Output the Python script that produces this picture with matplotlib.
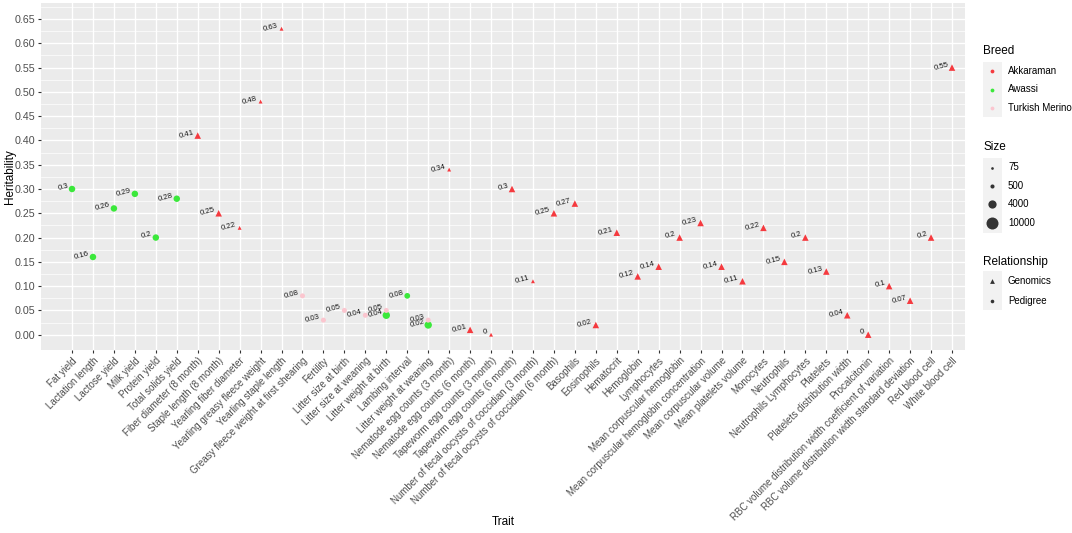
import numpy as np
import matplotlib.pyplot as plt
from matplotlib.patches import Rectangle

plt.rcParams['font.family'] = ['Liberation Sans', 'DejaVu Sans']

###########################################
# data
###########################################
traits = ["Fat yield", "Lactation length", "Lactose yield", "Milk yield", "Protein yield",
          "Total solids yield", "Fiber diameter (8 month)", "Staple length (8 month)",
          "Yearling fiber diameter", "Yearling greasy fleece weight", "Yearling staple length",
          "Greasy fleece weight at first shearing", "Fertility", "Litter size at birth",
          "Litter size at weaning", "Litter weight at birth", "Lambing interval",
          "Litter weight at weaning", "Nematode egg counts (3 month)",
          "Nematode egg counts (6 month)", "Tapeworm egg counts (3 month)",
          "Tapeworm egg counts (6 month)", "Number of fecal oocysts of coccidian (3 month)",
          "Number of fecal oocysts of coccidian (6 month)", "Basophils", "Eosinophils",
          "Hematocrit", "Hemoglobin", "Lymphocytes", "Mean corpuscular hemoglobin",
          "Mean corpuscular hemoglobin concentration", "Mean corpuscular volume",
          "Mean platelets volume", "Monocytes", "Neutrophils", "Neutrophils Lymphocytes",
          "Platelets", "Platelets distribution width", "Procalcitonin",
          "RBC volume distribution width coefficient of variation",
          "RBC volume distribution width standard deviation", "Red blood cell",
          "White blood cell"]

# one row per estimate (trait, breed, relationship, size, heritability)
point_trait = traits[:16] + ["Litter weight at birth", "Lambing interval",
                             "Litter weight at weaning", "Litter weight at weaning"] + traits[18:]
point_breed = (["Awassi"] * 6 + ["Akkaraman"] * 5 + ["Turkish Merino"] * 5
               + ["Awassi", "Awassi", "Turkish Merino", "Awassi"] + ["Akkaraman"] * 25)
point_rel = (["Pedigree"] * 6 + ["Genomics"] * 5 + ["Pedigree"] * 9 + ["Genomics"] * 25)
point_size = ([2100] * 6 + [700, 700, 75, 75, 75] + [1000] * 5
              + [3000, 1500, 1000, 3000]
              + [75, 700, 75, 700, 75, 700] + [700] * 19)
heritability = ([0.30, 0.16, 0.26, 0.29, 0.20, 0.28, 0.41, 0.25, 0.22, 0.48, 0.63,
                 0.08, 0.03, 0.05, 0.04, 0.05, 0.04, 0.08, 0.03, 0.02,
                 0.34, 0.01, 0.00, 0.30, 0.11, 0.25, 0.27, 0.02, 0.21, 0.12, 0.14,
                 0.20, 0.23, 0.14, 0.11, 0.22, 0.15, 0.20, 0.13, 0.04, 0.00, 0.10,
                 0.07, 0.20, 0.55])

breeds = ["Akkaraman", "Awassi", "Turkish Merino"]
breed_colors = {"Akkaraman": "#F53A3F", "Awassi": "#3BE83B", "Turkish Merino": "#FBC6CF"}
size_breaks = [75, 500, 4000, 10000]
relationships = ["Genomics", "Pedigree"]
rel_markers = {"Genomics": "^", "Pedigree": "o"}

W, H = 1072, 533
px = 72.0 / 100  # points per pixel
L, R, T, B = 41, 965, 3, 350  # panel edges in pixels


def diam(v):
    # point diameter in pixels for a given size value
    return 1.8 + 0.102 * np.sqrt(v)


###########################################
# main panel
###########################################
fig = plt.figure(figsize=(W / 100, H / 100), dpi=100)
ax = fig.add_axes([L / W, (H - B) / H, (R - L) / W, (B - T) / H])
ax.set_facecolor("#EBEBEB")
for s in ax.spines.values():
    s.set_visible(False)

xpos = {t: i + 1 for i, t in enumerate(traits)}
xs = [xpos[t] for t in point_trait]

for rel in relationships:
    for b in breeds:
        idx = [i for i in range(len(xs)) if point_rel[i] == rel and point_breed[i] == b]
        if not idx:
            continue
        d = np.array([diam(point_size[i]) for i in idx])
        if rel == "Genomics":
            d = d * 1.45
        ax.scatter([xs[i] for i in idx], [heritability[i] for i in idx],
                   s=(d * px) ** 2, marker=rel_markers[rel], color=breed_colors[b],
                   linewidths=0, zorder=3)

for x, y in zip(xs, heritability):
    ax.annotate(f"{y:g}", (x, y), xytext=(-2, 0), textcoords="offset points",
                ha="right", va="bottom", rotation=15, rotation_mode="anchor",
                fontsize=5.6, color="#1A1A1A", zorder=4)

ax.set_xlim(-0.48, 43.62)
ax.set_ylim(-0.0315, 0.683)
ax.set_xticks(range(1, len(traits) + 1))
ax.set_xticklabels(traits, rotation=45, ha="right", rotation_mode="anchor", fontsize=7.0)
yt = np.arange(0, 0.651, 0.05)
ax.set_yticks(yt)
ax.set_yticklabels([f"{v:.2f}" for v in yt], fontsize=7.7)
ax.set_yticks(np.arange(0.025, 0.68, 0.05), minor=True)
ax.grid(True, which="major", color="white", linewidth=1.0)
ax.grid(True, which="minor", axis="y", color="white", linewidth=0.5)
ax.set_axisbelow(True)
ax.tick_params(axis="both", which="major", length=2.5, width=0.8, color="#333333",
               labelcolor="#4D4D4D", pad=1.5)
ax.tick_params(axis="both", which="minor", length=0)
ax.set_xlabel("Trait", fontsize=8.5, color="black")
ax.set_ylabel("Heritability", fontsize=8.5, color="black")
ax.xaxis.set_label_coords(0.5, -(516 - B) / (B - T))
ax.yaxis.set_label_coords(-(L - 16) / (R - L), 0.5)

###########################################
# legends (drawn in pixel coordinates)
###########################################
lg = fig.add_axes([0, 0, 1, 1])
lg.set_xlim(0, W)
lg.set_ylim(H, 0)
lg.axis("off")
kx0, kx1, kcx, tx = 983, 1002, 992, 1008


def legend_group(title, ty, labels, rows, sizes, markers, colors):
    lg.text(kx0, ty, title, fontsize=8.5, va="center", ha="left", color="black")
    top = rows[0][0]
    bot = rows[-1][1]
    lg.add_patch(Rectangle((kx0, top), kx1 - kx0, bot - top, color="#F2F2F2", lw=0))
    for lab, (r0, r1), d, m, c in zip(labels, rows, sizes, markers, colors):
        cy = (r0 + r1) / 2
        lg.scatter([kcx], [cy], s=(d * px) ** 2, marker=m, color=c, linewidths=0)
        lg.text(tx, cy, lab, fontsize=7, va="center", ha="left", color="black")


legend_group("Breed", 51, breeds, [(62, 80), (80, 99), (99, 117)],
             [3.8] * 3, ["o"] * 3, [breed_colors[b] for b in breeds])
legend_group("Size", 147, [str(v) for v in size_breaks],
             [(158, 177), (177, 195), (195, 213), (213, 233)],
             [diam(v) for v in size_breaks], ["o"] * 4, ["#333333"] * 4)
legend_group("Relationship", 262, relationships, [(271, 291), (291, 310)],
             [4.8, 3.6], [rel_markers[r] for r in relationships], ["#333333"] * 2)

fig.savefig("out.png", dpi=100)
